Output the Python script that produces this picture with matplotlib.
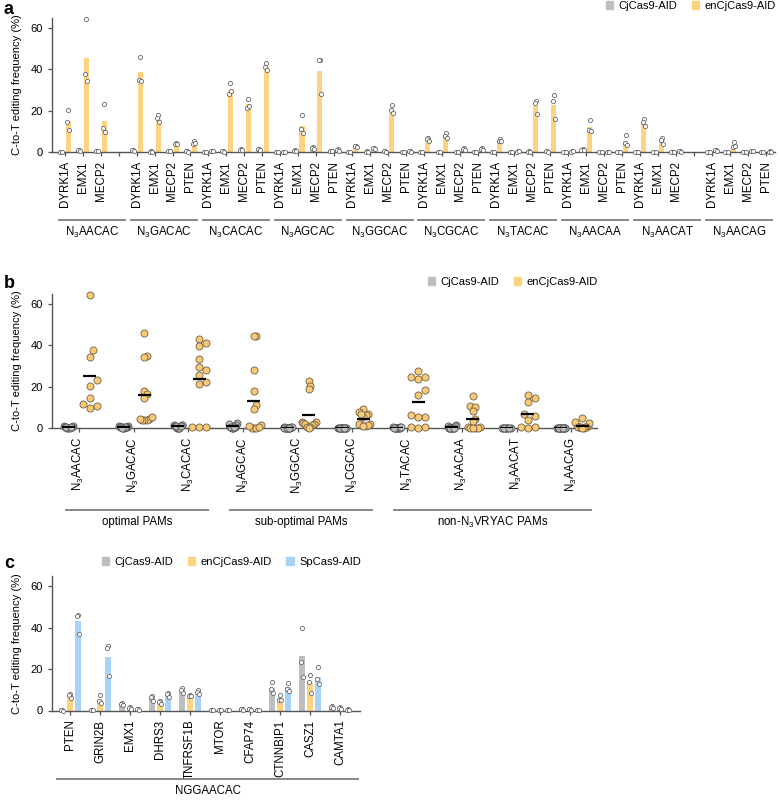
import numpy as np
import matplotlib
matplotlib.use('Agg')
import matplotlib.pyplot as plt
from matplotlib import font_manager as fm
from matplotlib.patches import Patch
from matplotlib.transforms import blended_transform_factory

plt.rcParams['font.family'] = ['Liberation Sans', 'DejaVu Sans']

# ---------------- data ----------------
# panel a: PAMs, genes per PAM, replicate values (enCjCas9-AID / CjCas9-AID)
a_pams = ['AACAC', 'GACAC', 'CACAC', 'AGCAC', 'GGCAC',
          'CGCAC', 'TACAC', 'AACAA', 'AACAT', 'AACAG']
a_genes = ['DYRK1A', 'EMX1', 'MECP2', 'PTEN']
a_missing = [('AACAC', 'PTEN'), ('AACAT', 'PTEN')]

a_en = [
    [20.2, 14.5, 10.8], [64.5, 37.5, 34.5], [23.0, 11.8, 9.7],                       # AACAC
    [46.0, 35.0, 34.5], [17.8, 16.3, 14.3], [4.3, 4.0, 3.7], [5.5, 4.0, 4.3],        # GACAC
    [0.3, 0.3, 0.3], [33.2, 28.1, 29.3], [25.5, 21.5, 22.3], [43.0, 41.0, 39.5],     # CACAC
    [0.1, 0.2, 0.1], [17.8, 11.2, 9.2], [44.7, 44.3, 28.0], [1.5, 1.0, 0.3],         # AGCAC
    [3.0, 2.8, 2.5], [2.0, 1.8, 1.5], [22.7, 20.3, 18.7], [0.5, 0.3, 0.2],           # GGCAC
    [7.0, 6.2, 5.4], [9.3, 7.8, 6.8], [2.0, 1.5, 1.0], [2.0, 1.5, 0.8],              # CGCAC
    [6.2, 5.5, 5.2], [0.3, 0.2, 0.3], [24.5, 23.5, 18.5], [27.5, 24.5, 16.0],        # TACAC
    [0.3, 0.2, 0.3], [15.5, 10.5, 10.0], [0.2, 0.2, 0.1], [8.0, 4.5, 3.5],           # AACAA
    [15.8, 14.5, 12.5], [7.0, 6.0, 4.0], [0.3, 0.3, 0.2],                           # AACAT
    [1.0, 0.8, 0.5], [4.8, 2.5, 2.8], [0.6, 0.5, 0.3], [0.3, 0.2, 0.1],              # AACAG
]
a_cj = [
    [0.2, 0.1, 0.1], [1.0, 0.8, 0.6], [0.6, 0.5, 0.4],
    [0.9, 0.8, 0.6], [0.3, 0.2, 0.1], [0.5, 0.4, 0.3], [0.4, 0.3, 0.2],
    [0.2, 0.1, 0.1], [0.5, 0.3, 0.2], [1.5, 1.2, 1.0], [1.5, 1.3, 1.1],
    [0.1, 0.0, 0.0], [0.9, 0.7, 0.5], [2.4, 1.8, 1.4], [0.7, 0.5, 0.3],
    [0.1, 0.0, 0.0], [0.3, 0.2, 0.1], [0.4, 0.3, 0.2], [0.1, 0.0, 0.0],
    [0.1, 0.0, 0.0], [0.1, 0.0, 0.0], [0.1, 0.0, 0.0], [0.1, 0.0, 0.0],
    [0.1, 0.0, 0.0], [0.1, 0.0, 0.0], [0.3, 0.2, 0.1], [0.4, 0.3, 0.2],
    [0.1, 0.0, 0.0], [1.5, 1.2, 0.9], [0.1, 0.0, 0.0], [0.1, 0.0, 0.0],
    [0.1, 0.0, 0.0], [0.1, 0.0, 0.0], [0.1, 0.0, 0.0],
    [0.1, 0.0, 0.0], [0.1, 0.0, 0.0], [0.1, 0.0, 0.0], [0.1, 0.0, 0.0],
]

# panel b: PAM classes
b_classes = ['optimal PAMs', 'sub-optimal PAMs', 'non-N$_\\mathregular{3}$VRYAC PAMs']
b_class_span = [(0, 2), (3, 5), (6, 9)]

# panel c: NGGAACAC targets
c_genes = ['PTEN', 'GRIN2B', 'EMX1', 'DHRS3', 'TNFRSF1B',
           'MTOR', 'CFAP74', 'CTNNBIP1', 'CASZ1', 'CAMTA1']
c_cj = [[0.2, 0.1, 0.0], [0.3, 0.2, 0.1], [3.5, 3.2, 2.8], [7.0, 6.5, 4.5], [11.0, 10.0, 8.5],
        [0.3, 0.2, 0.1], [0.8, 0.5, 0.3], [13.8, 10.5, 8.3], [40.0, 23.2, 16.4], [2.3, 1.5, 1.0]]
c_en = [[8.0, 7.5, 6.0], [7.3, 4.6, 3.8], [1.5, 1.0, 0.6], [4.8, 4.0, 3.3], [7.5, 7.0, 6.8],
        [0.2, 0.1, 0.1], [0.6, 0.5, 0.3], [7.5, 5.2, 5.0], [17.3, 14.0, 8.3], [1.8, 1.2, 0.8]]
c_sp = [[46.2, 45.8, 37.2], [31.0, 30.3, 16.8], [0.6, 0.5, 0.3], [8.5, 7.8, 6.7], [9.8, 9.0, 8.2],
        [0.2, 0.1, 0.1], [0.3, 0.2, 0.1], [13.5, 10.5, 9.5], [21.0, 15.0, 12.8], [0.6, 0.4, 0.3]]

# ---------------- style ----------------
GREY = '#BEBEBE'
YEL = '#FDD380'
BLUE = '#A8D3F6'
AX_C = '#555555'
W, H = 780, 800

try:
    fm.findfont('Liberation Sans Narrow', fallback_to_default=False)
    NARROW, NSIZE = 'Liberation Sans Narrow', 10
except ValueError:
    NARROW, NSIZE = 'Liberation Sans', 8.3


def fy(py):
    return 1 - py / H


def style_axis(ax):
    for s in ['top', 'right']:
        ax.spines[s].set_visible(False)
    for s in ['left', 'bottom']:
        ax.spines[s].set_color(AX_C)
        ax.spines[s].set_linewidth(1.0)
    ax.tick_params(colors=AX_C, labelcolor='black', length=3, width=0.9, labelsize=8)
    ax.set_ylim(0, 65)
    ax.set_yticks([0, 20, 40, 60])
    ax.set_ylabel('C-to-T editing frequency (%)', fontsize=8, labelpad=6)


def swarm(vals, xpx, ypx, diam, maxw):
    vals = np.asarray(vals, float)
    offs = np.zeros(len(vals))
    placed = []
    step = diam * 0.5
    for i in np.argsort(vals):
        y = vals[i] * ypx
        k = 0
        while True:
            cands = [0.0] if k == 0 else [k * step, -k * step]
            ok = None
            for c in cands:
                if all((c - px) ** 2 + (y - py) ** 2 >= diam ** 2 * 0.95 for px, py in placed):
                    ok = c
                    break
            if ok is not None:
                break
            k += 1
        placed.append((ok, y))
        offs[i] = ok / xpx
    m = np.abs(offs).max()
    if m > maxw:
        offs *= maxw / m
    return offs


def group_line(ax, x0, x1, py_line, py_text, label):
    tr = blended_transform_factory(ax.transData, fig.transFigure)
    ax.plot([x0, x1], [fy(py_line)] * 2, color='#888888', lw=1.4,
            transform=tr, clip_on=False, solid_capstyle='butt')
    ax.text((x0 + x1) / 2, fy(py_text), label, transform=tr, ha='center', va='center',
            fontsize=NSIZE, family=[NARROW, 'DejaVu Sans'])


fig = plt.figure(figsize=(7.8, 8), dpi=100)

# ---------------- panel a ----------------
axa = fig.add_axes([52 / W, fy(152), (775 - 52) / W, (152 - 17.5) / H])
style_axis(axa)
slot_labels = []
slot_x = []
k = 0
circ = dict(s=9, facecolor='white', edgecolors='#666666', linewidths=0.6, zorder=4)
jit = np.array([0.0, -0.06, 0.06])
for gi, pam in enumerate(a_pams):
    for gj, gene in enumerate(a_genes):
        x = gi * 4 + gj
        slot_x.append(x)
        if (pam, gene) in a_missing:
            slot_labels.append('')
            continue
        slot_labels.append(gene)
        cj = np.array(a_cj[k])
        en = np.array(a_en[k])
        axa.bar(x - 0.2, cj.mean(), width=0.28, color=GREY, zorder=2)
        axa.bar(x + 0.2, en.mean(), width=0.28, color=YEL, zorder=2)
        axa.scatter(x - 0.2 + jit, cj, clip_on=False, **circ)
        axa.scatter(x + 0.2 + jit, en, clip_on=False, **circ)
        k += 1
axa.set_xlim(-0.7, 39.5)
axa.set_xticks(slot_x)
axa.set_xticklabels(slot_labels, rotation=90, fontsize=8.3)
for gi, pam in enumerate(a_pams):
    group_line(axa, gi * 4 - 0.38, gi * 4 + 3.4, 220, 232, 'N$_\\mathregular{3}$' + pam)
fig.legend(handles=[Patch(color=GREY, label='CjCas9-AID'), Patch(color=YEL, label='enCjCas9-AID')],
           loc='center right', bbox_to_anchor=(776 / W, fy(6)), ncol=2, frameon=False,
           fontsize=8, handlelength=0.65, handleheight=0.65, handletextpad=0.5,
           columnspacing=1.3, borderpad=0, borderaxespad=0)

# ---------------- panel b ----------------
axb = fig.add_axes([52 / W, fy(428), (597 - 52) / W, (428 - 293.5) / H])
style_axis(axb)
xpx, ypx = 54.7, 134.5 / 65
k = 0
for gi, pam in enumerate(a_pams):
    n = sum(1 for g in a_genes if (pam, g) not in a_missing)
    cj = np.concatenate(a_cj[k:k + n])
    en = np.concatenate(a_en[k:k + n])
    k += n
    for vals, xc, face, edge, mw in [(cj, gi - 0.19, '#BDBDBD', '#555555', 0.08),
                                     (en, gi + 0.2, '#F9C976', '#6f5f45', 0.13)]:
        offs = swarm(vals, xpx, ypx, 7.0, mw)
        axb.scatter(xc + offs, vals, s=26, facecolor=face, edgecolors=edge,
                    linewidths=0.6, zorder=3, clip_on=False)
        axb.hlines(vals.mean(), xc - 0.12, xc + 0.12, color='black', lw=1.6, zorder=4)
axb.set_xlim(-0.49, 9.47)
axb.set_xticks(range(len(a_pams)))
axb.set_xticklabels(['N$_\\mathregular{3}$' + p for p in a_pams], rotation=90, fontsize=8.3)
for lab, (i0, i1) in zip(b_classes, b_class_span):
    group_line(axb, i0 - 0.26, i1 + 0.38, 510, 522, lab)
fig.legend(handles=[Patch(color=GREY, label='CjCas9-AID'), Patch(color=YEL, label='enCjCas9-AID')],
           loc='center right', bbox_to_anchor=(598 / W, fy(282)), ncol=2, frameon=False,
           fontsize=8, handlelength=0.65, handleheight=0.65, handletextpad=0.5,
           columnspacing=1.3, borderpad=0, borderaxespad=0)

# ---------------- panel c ----------------
axc = fig.add_axes([52 / W, fy(710.5), (360 - 52) / W, (710.5 - 576) / H])
style_axis(axc)
for i in range(len(c_genes)):
    for reps, dx, col in [(c_cj[i], -0.26, GREY), (c_en[i], 0.0, YEL), (c_sp[i], 0.26, BLUE)]:
        r = np.array(reps)
        axc.bar(i + dx, r.mean(), width=0.2, color=col, zorder=2)
        axc.scatter(i + dx + jit * 0.6, r, clip_on=False, **circ)
axc.set_xlim(-0.6, 9.67)
axc.set_xticks(range(len(c_genes)))
axc.set_xticklabels(c_genes, rotation=90, fontsize=8.3)
group_line(axc, -0.45, 9.65, 779, 791, 'NGGAACAC')
fig.legend(handles=[Patch(color=GREY, label='CjCas9-AID'), Patch(color=YEL, label='enCjCas9-AID'),
                    Patch(color=BLUE, label='SpCas9-AID')],
           loc='center right', bbox_to_anchor=(361 / W, fy(562)), ncol=3, frameon=False,
           fontsize=8, handlelength=0.65, handleheight=0.65, handletextpad=0.5,
           columnspacing=1.3, borderpad=0, borderaxespad=0)

for lab, py in [('a', 10), ('b', 283), ('c', 563)]:
    fig.text(4 / W, fy(py), lab, fontsize=13, fontweight='bold', va='center', ha='left')

fig.savefig('out.png', dpi=100)
